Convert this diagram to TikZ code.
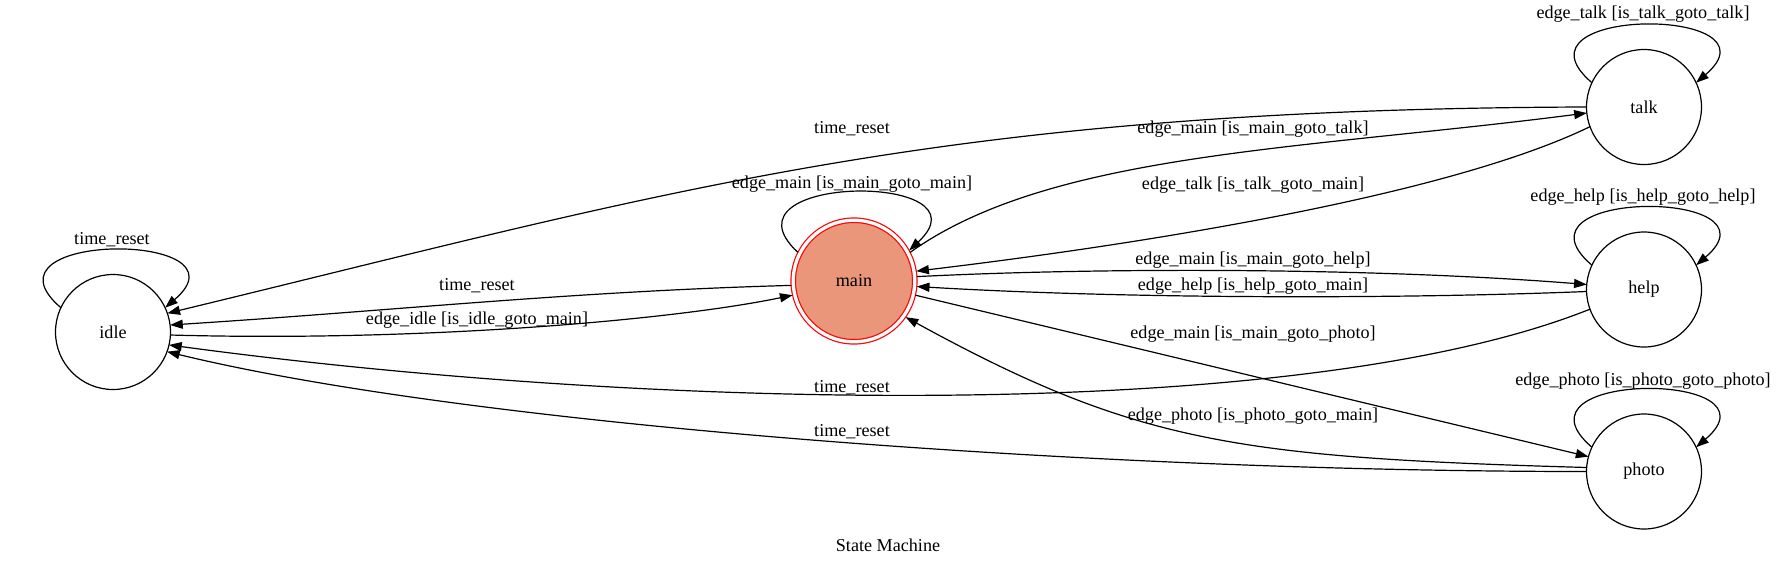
\documentclass[tikz,border=0pt]{standalone}
\usepackage{fontspec}
\setmainfont{Liberation Serif}
\usetikzlibrary{arrows.meta}
\definecolor{salmonfill}{HTML}{E9967A}

\begin{document}
\begin{tikzpicture}[x=0.75pt, y=-0.75pt, every node/.style={font=\fontsize{13.6}{16}\selectfont}]
    \tikzset{circ/.style={circle, draw, line width=0.9pt, minimum size=86.25pt, inner sep=0pt, outer sep=0pt}}
    \tikzset{dcirc/.style={circle, draw=red, fill=salmonfill, line width=0.9pt, double=white, double distance=2.45pt, minimum size=91.15pt, inner sep=0pt, outer sep=1.7pt}}
    \tikzset{line/.style={draw, line width=0.9pt, -{Triangle[length=9.5pt, width=6.8pt]}}}
    \tikzset{lbl/.style={inner sep=0pt, text height=0.68em, text depth=0.22em}}

    \useasboundingbox (0,0) rectangle (1777,565);

    \node [circ] (idle) at (113,332) {idle};
    \node [dcirc] (main) at (854,281) {main};
    \node [circ] (talk) at (1644,107) {talk};
    \node [circ] (help) at (1644,289.5) {help};
    \node [circ] (photo) at (1644,471.5) {photo};

    % self loops
    \path [line] (idle.155) .. controls +(-90,-77) and +(90,-77) .. (idle.25);
    \path [line] (main.153) .. controls +(-85,-79) and +(85,-79) .. (main.29);
    \path [line] (talk.155) .. controls +(-90,-77) and +(90,-77) .. (talk.25);
    \path [line] (help.155) .. controls +(-90,-77) and +(90,-77) .. (help.25);
    \path [line] (photo.155) .. controls +(-90,-77) and +(90,-77) .. (photo.25);
    \node [lbl] (l-idle) at (112,241) {time\_reset};
    \node [lbl] (l-main) at (852,185) {edge\_main [is\_main\_goto\_main]};
    \node [lbl] (l-talk) at (1643,15) {edge\_talk [is\_talk\_goto\_talk]};
    \node [lbl] (l-help) at (1643,198) {edge\_help [is\_help\_goto\_help]};
    \node [lbl] (l-photo) at (1643,382) {edge\_photo [is\_photo\_goto\_photo]};

    % main <-> idle
    \path [line] (main.184) .. controls +(-220,6) and +(220,-14) .. (idle.7);
    \path [line] (idle.-3) .. controls +(250,7) and +(-120,25) .. (main.193);
    \node [lbl] (l-main-idle) at (477,287) {time\_reset};
    \node [lbl] (l-idle-main) at (477,321) {edge\_idle [is\_idle\_goto\_main]};

    % main <-> right column
    \path [line] (main.27) .. controls +(140,-100) and +(-287,37) .. (talk.186);
    \path [line] (talk.200) .. controls +(-140,68) and +(234,-28) .. (main.9);
    \path [line] (main.4) .. controls +(200,-10) and +(-200,-16) .. (help.175);
    \path [line] (help.182) .. controls +(-200,8) and +(200,12) .. (main.-5);
    \path [line] (main.-13) -- (photo.165);
    \path [line] (photo.176) .. controls +(-350,-10) and +(230,126) .. (main.-35);
    \node [lbl] (l-main-talk) at (1253,130) {edge\_main [is\_main\_goto\_talk]};
    \node [lbl] (l-talk-main) at (1253,186) {edge\_talk [is\_talk\_goto\_main]};
    \node [lbl] (l-main-help) at (1253,261) {edge\_main [is\_main\_goto\_help]};
    \node [lbl] (l-help-main) at (1253,287) {edge\_help [is\_help\_goto\_main]};
    \node [lbl] (l-main-photo) at (1253,335) {edge\_main [is\_main\_goto\_photo]};
    \node [lbl] (l-photo-main) at (1253,417) {edge\_photo [is\_photo\_goto\_main]};

    % resets back to idle
    \path [line] (talk.180) .. controls +(-650,2) and +(500,-121) .. (idle.19);
    \path [line] (help.200) .. controls +(-290,116) and +(481,65) .. (idle.-13);
    \path [line] (photo.180) .. controls +(-500,0) and +(300,73) .. (idle.-20);
    \node [lbl] (l-talk-idle) at (852,130) {time\_reset};
    \node [lbl] (l-help-idle) at (852,389) {time\_reset};
    \node [lbl] (l-photo-idle) at (852,433) {time\_reset};

    \node (title) at (888,545) {State Machine};
\end{tikzpicture}
\end{document}
